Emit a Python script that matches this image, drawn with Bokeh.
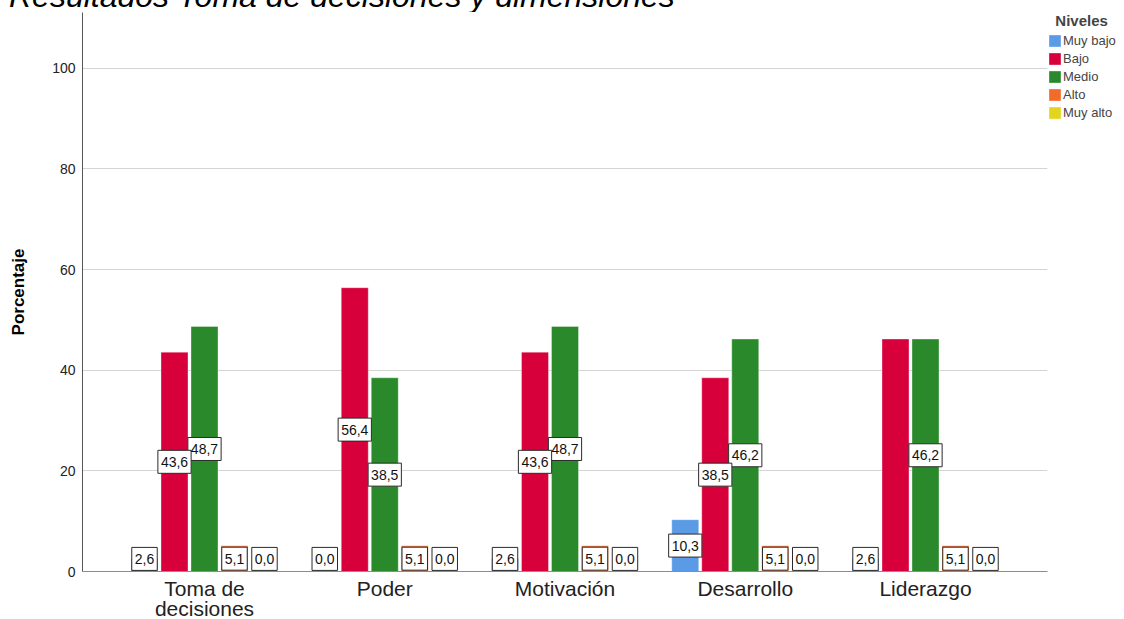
from bokeh.plotting import figure
from bokeh.models import (ColumnDataSource, Legend, LegendItem, FixedTicker, Range1d, Div)
from bokeh.layouts import column
from bokeh.core.properties import value
from bokeh.embed import file_html
from bokeh.resources import INLINE

# ---------------- data ----------------
categories = ["Toma de\ndecisiones", "Poder", "Motivación", "Desarrollo", "Liderazgo"]
levels = ["Muy bajo", "Bajo", "Medio", "Alto", "Muy alto"]
muy_bajo = [2.6, 0.0, 2.6, 10.3, 2.6]
bajo = [43.6, 56.4, 43.6, 38.5, 46.2]
medio = [48.7, 38.5, 48.7, 46.2, 46.2]
alto = [5.1, 5.1, 5.1, 5.1, 5.1]
muy_alto = [0.0, 0.0, 0.0, 0.0, 0.0]
y_ticks = [0, 20, 40, 60, 80, 100]
title_text = "Resultados Toma de decisiones y dimensiones"
y_label = "Porcentaje"
legend_title = "Niveles"

series = [muy_bajo, bajo, medio, alto, muy_alto]
colors = ["#5b9be6", "#d8003a", "#2a8a2b", "#f26b2a", "#e3d51b"]

FONT = "Liberation Sans"
STEP = 0.1664
BAR_W = 0.1498
LABEL_PX = 14
ADV = {",": 0.278}   # Arial-like advance widths (em) used to size the label boxes

# ---------------- title strip (cut at the top, as in the reference) ----------------
title_div = Div(
    text=(f'<div style="position:relative; top:-20px; left:9px; white-space:nowrap; '
          f"font-family:'{FONT}'; font-style:italic; font-size:32px; line-height:32px; "
          f'color:#000000;">{title_text}</div>'),
    width=1122, height=12, styles={"overflow": "hidden", "margin": "0", "padding": "0"})

# ---------------- figure ----------------
p = figure(frame_width=965, frame_height=559,
           x_range=Range1d(-0.6768, 4.6768), y_range=Range1d(0, 111.1),
           output_backend="svg", toolbar_location=None,
           min_border_left=82, min_border_right=75, min_border_top=0, min_border_bottom=47)
p.outline_line_color = None
p.background_fill_color = "white"

# bars
renderers = []
for j, (vals, col) in enumerate(zip(series, colors)):
    xs = [i + (j - 2) * STEP for i in range(len(categories))]
    r = p.vbar(x=xs, top=vals, width=BAR_W, fill_color=col,
               line_color="white", line_alpha=0.35, line_width=1)
    renderers.append(r)

# value labels (drawn from last level to first so earlier levels sit on top)
lx, ly, lt, lw = [], [], [], []
for j in reversed(range(len(levels))):
    vals = series[j]
    for i, v in enumerate(vals):
        # a label that would sit exactly on its neighbour's label is hidden
        if j == 1 and medio[i] == v:
            continue
        s = f"{v:.1f}".replace(".", ",")
        lx.append(i + (j - 2) * STEP)
        ly.append(max(v / 2.0, 2.5))
        lt.append(s)
        lw.append(sum(ADV.get(ch, 0.556) for ch in s) * LABEL_PX + 6)
lsrc = ColumnDataSource(dict(x=lx, y=ly, t=lt, w=lw))
p.rect(x="x", y="y", width="w", height=23, width_units="screen", height_units="screen",
       source=lsrc, fill_color="white", line_color="#2a2a2a", line_width=1)
p.text(x="x", y="y", text="t", source=lsrc, text_align="center", text_baseline="middle",
       text_font=value(FONT), text_font_size=f"{LABEL_PX}px", text_color="#111111")

# axes
xa = p.xaxis[0]
xa.ticker = FixedTicker(ticks=list(range(len(categories))))
xa.major_label_overrides = {i: c for i, c in enumerate(categories)}
xa.major_tick_out = 0
xa.major_tick_in = 0
xa.minor_tick_out = 0
xa.minor_tick_in = 0
xa.major_label_standoff = 5
xa.major_label_text_font = FONT
xa.major_label_text_font_size = "21px"
xa.major_label_text_line_height = 0.88
xa.major_label_text_color = "#222222"
xa.axis_line_color = "#8c8c8c"

ya = p.yaxis[0]
ya.ticker = FixedTicker(ticks=y_ticks)
ya.major_tick_out = 0
ya.major_tick_in = 0
ya.minor_tick_out = 0
ya.minor_tick_in = 0
ya.major_label_standoff = 7
ya.major_label_text_font = FONT
ya.major_label_text_font_size = "14px"
ya.major_label_text_color = "#222222"
ya.axis_line_color = "#555555"
ya.axis_label = y_label
ya.axis_label_text_font = FONT
ya.axis_label_text_font_size = "17px"
ya.axis_label_text_font_style = "bold"
ya.axis_label_text_color = "#000000"
ya.axis_label_standoff = 21

p.xgrid.visible = False
p.ygrid.ticker = FixedTicker(ticks=y_ticks)
p.ygrid.grid_line_color = "#d4d4d4"
p.ygrid.grid_line_width = 1

# legend in the right-hand panel
items = [LegendItem(label=lev, renderers=[r]) for lev, r in zip(levels, renderers)]
legend = Legend(items=items, location="top_left", title="\u00a0\u00a0" + legend_title,
                title_text_font=FONT, title_text_font_style="bold",
                title_text_font_size="15px", title_standoff=4,
                label_text_font=FONT, label_text_font_size="13px",
                glyph_width=15, glyph_height=15, label_height=14,
                label_standoff=1, spacing=3, padding=3, margin=0,
                border_line_color=None, background_fill_alpha=0)
p.add_layout(legend, "right")

layout = column(title_div, p, spacing=0)
open("out.html", "w").write(file_html(layout, INLINE))
